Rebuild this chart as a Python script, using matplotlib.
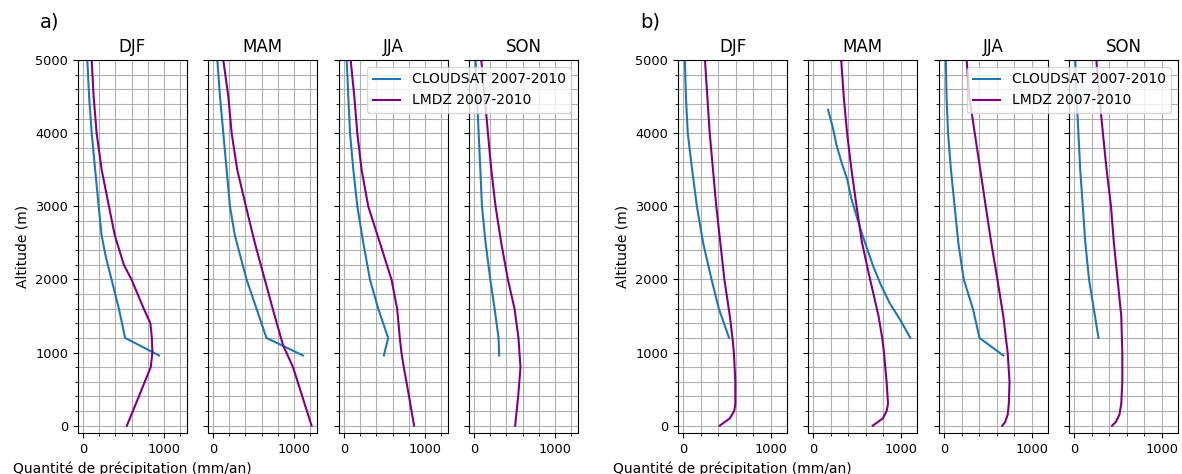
import numpy as np
import matplotlib
matplotlib.use('Agg')
import matplotlib.pyplot as plt
from matplotlib.ticker import MultipleLocator

seasons = ['DJF', 'MAM', 'JJA', 'SON']

# a) CLOUDSAT / LMDZ profiles (altitude m, precip mm/an)
a_cs_alt = [
    [960, 1200, 1600, 2000, 2300, 2600, 3000, 3500, 4000, 4500, 5000],
    [960, 1200, 1600, 2000, 2600, 3000, 3500, 4000, 4500, 5000],
    [960, 1200, 1600, 2000, 2500, 3000, 3500, 4000, 4500, 5000],
    [960, 1200, 1600, 2000, 2500, 3000, 3500, 4000, 4500, 5000],
]
a_cs_val = [
    [939, 520, 443, 352, 283, 230, 193, 150, 107, 75, 53],
    [1110, 660, 537, 414, 270, 209, 168, 127, 86, 53],
    [492, 545, 422, 320, 238, 164, 115, 74, 53, 33],
    [311, 303, 254, 201, 143, 98, 78, 57, 37, 20],
]
a_lm_alt = [
    [0, 400, 800, 1000, 1200, 1400, 1600, 2000, 2200, 2600, 3000, 3500, 4000, 4500, 5000],
    [0, 800, 1100, 1500, 2000, 2500, 3000, 3500, 4000, 4500, 5000],
    [0, 400, 800, 1000, 1200, 1600, 2000, 2500, 3000, 3500, 4000, 4500, 5000],
    [0, 400, 800, 1000, 1200, 1600, 2000, 2500, 3000, 3500, 4000, 4500, 5000],
]
a_lm_val = [
    [541, 690, 836, 857, 850, 832, 750, 598, 504, 393, 320, 230, 168, 131, 107],
    [1217, 988, 865, 762, 639, 516, 406, 299, 230, 189, 127],
    [865, 803, 738, 709, 689, 656, 586, 443, 299, 217, 164, 127, 82],
    [508, 545, 574, 561, 549, 500, 418, 336, 266, 213, 172, 131, 90],
]

# b)
b_cs_alt = [
    [1200, 1600, 2000, 2500, 3000, 3500, 4000, 4500, 5000],
    [1200, 1440, 1680, 1920, 2160, 2400, 2640, 2880, 3120, 3360, 3600, 3840, 4080, 4320],
    [960, 1200, 1600, 2000, 2500, 3000, 3500, 4000, 4500, 5000],
    [1200, 1600, 2000, 2500, 3000, 3500, 4000, 4500, 5000],
]
b_cs_val = [
    [525, 408, 325, 229, 158, 104, 54, 33, 21],
    [1108, 996, 871, 775, 692, 621, 554, 492, 433, 392, 325, 267, 225, 171],
    [675, 404, 329, 225, 163, 121, 79, 46, 29, 21],
    [279, 225, 171, 129, 100, 71, 50, 29, 15],
]
b_lm_alt = [
    [0, 100, 200, 300, 600, 1000, 1200, 1500, 2000, 3000, 4000, 5000],
    [0, 100, 200, 300, 600, 1000, 1200, 1500, 2000, 2500, 3000, 3500, 4000, 4500, 5000],
    [0, 50, 150, 300, 600, 1000, 1200, 1500, 2000, 2500, 3000, 3500, 4000, 4500, 5000],
    [0, 50, 150, 300, 600, 1000, 1500, 2000, 2500, 3000, 3500, 4000, 4500, 5000],
]
b_lm_val = [
    [417, 533, 583, 596, 596, 579, 563, 533, 471, 379, 304, 250],
    [679, 796, 838, 854, 838, 808, 788, 746, 650, 558, 496, 438, 388, 350, 321],
    [663, 696, 725, 738, 746, 725, 704, 675, 608, 538, 475, 413, 350, 288, 258],
    [433, 475, 517, 538, 550, 550, 538, 496, 454, 421, 371, 329, 288, 254],
]

W, H = 1182, 474
fig = plt.figure(figsize=(W / 100, H / 100), dpi=100)


def px(l, r, t=60, b=433):
    return [l / W, 1 - b / H, (r - l) / W, (b - t) / H]


def panel(x0, xlim, cs_alt, cs_val, lm_alt, lm_val, label):
    lefts = [78, 208, 339, 469]
    axes = []
    for i, s in enumerate(seasons):
        ax = fig.add_axes(px(x0 + lefts[i], x0 + lefts[i] + 109))
        ax.plot(cs_val[i], cs_alt[i], color='#1f77b4', lw=1.5, label='CLOUDSAT 2007-2010')
        ax.plot(lm_val[i], lm_alt[i], color='purple', lw=1.5, label='LMDZ 2007-2010')
        ax.set_xlim(xlim)
        ax.set_ylim(-100, 5000)
        ax.xaxis.set_major_locator(MultipleLocator(1000))
        ax.xaxis.set_minor_locator(MultipleLocator(200))
        ax.yaxis.set_major_locator(MultipleLocator(1000))
        ax.yaxis.set_minor_locator(MultipleLocator(200))
        ax.grid(which='both', color='#b0b0b0', lw=0.8)
        ax.tick_params(labelsize=9.3)
        ax.set_title(s, fontsize=12)
        if i > 0:
            ax.tick_params(labelleft=False)
        axes.append(ax)
    axes[0].set_ylabel('Altitude (m)', fontsize=10)
    axes[0].set_xlabel('Quantité de précipitation (mm/an)', fontsize=10, labelpad=4.5)
    axes[-1].legend(loc='upper right', fontsize=10)
    fig.text((x0 + 40) / W, 1 - 22 / H, label, fontsize=14, va='center')
    return axes


panel(0, (-62, 1284), a_cs_alt, a_cs_val, a_lm_alt, a_lm_val, 'a)')
panel(600, (-57, 1184), b_cs_alt, b_cs_val, b_lm_alt, b_lm_val, 'b)')

fig.savefig('out.png', dpi=100)
